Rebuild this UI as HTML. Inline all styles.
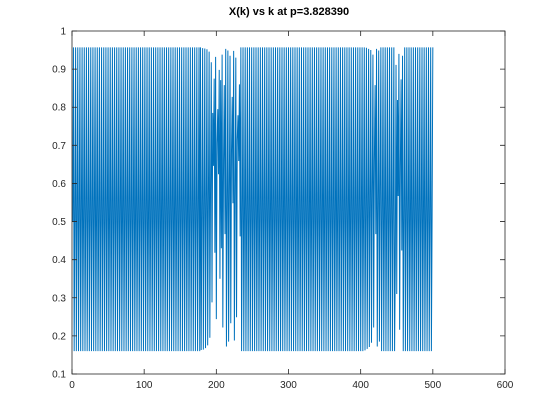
<!DOCTYPE html>
<html><head><meta charset="utf-8"><style>
body{margin:0;background:#fff}
svg{display:block;font-family:"Liberation Sans",Arial,sans-serif}
</style></head><body>
<svg id="chart" width="560" height="420" viewBox="0 0 560 420">
<rect width="560" height="420" fill="#fff"/>
<text x="289" y="15" text-anchor="middle" font-size="11" font-weight="bold" fill="#000">X(k) vs k at p=3.828390</text>
<g id="plot"></g>
<g id="axes"></g>
</svg>
<script>
const xTicks=[0,100,200,300,400,500,600];
const yTicks=[0.1,0.2,0.3,0.4,0.5,0.6,0.7,0.8,0.9,1];
const yTickLabels=["0.1","0.2","0.3","0.4","0.5","0.6","0.7","0.8","0.9","1"];
const xValues=[
0.500,0.957,0.160,0.514,0.957,0.160,0.514,0.957,0.160,0.514,0.957,0.160,0.514,0.957,0.160,0.514,0.957,0.160,0.514,0.957,0.160,0.514,0.957,0.160,0.514,0.957,0.160,0.514,0.957,0.160,
0.514,0.957,0.160,0.514,0.957,0.160,0.514,0.957,0.160,0.514,0.957,0.160,0.514,0.957,0.160,0.514,0.957,0.160,0.514,0.957,0.160,0.514,0.957,0.160,0.514,0.957,0.160,0.514,0.957,0.160,
0.514,0.957,0.160,0.514,0.957,0.160,0.514,0.957,0.160,0.514,0.957,0.160,0.514,0.957,0.160,0.514,0.957,0.160,0.514,0.957,0.160,0.514,0.957,0.160,0.514,0.957,0.160,0.514,0.957,0.160,
0.514,0.957,0.160,0.514,0.957,0.160,0.514,0.957,0.160,0.514,0.957,0.160,0.514,0.957,0.160,0.514,0.957,0.160,0.514,0.957,0.160,0.514,0.957,0.160,0.514,0.957,0.160,0.514,0.957,0.160,
0.514,0.957,0.160,0.514,0.957,0.160,0.514,0.957,0.160,0.514,0.957,0.160,0.514,0.957,0.160,0.514,0.957,0.160,0.514,0.957,0.160,0.514,0.957,0.160,0.514,0.957,0.160,0.514,0.957,0.160,
0.514,0.957,0.160,0.514,0.957,0.160,0.514,0.957,0.160,0.514,0.957,0.160,0.514,0.957,0.160,0.514,0.957,0.160,0.514,0.957,0.160,0.514,0.957,0.160,0.514,0.957,0.160,
0.957,0.163,0.522,0.955,0.164,0.525,0.954,0.168,0.535,0.952,
0.175,0.553,0.946,0.195,0.601,0.918,0.288,0.785,0.646,0.875,
0.418,0.932,0.244,0.706,0.795,0.624,0.898,0.350,0.871,0.430,
0.938,0.222,0.661,0.858,0.467,0.953,0.172,0.545,0.949,0.185,
0.577,0.935,0.233,0.684,0.827,0.548,0.948,0.188,0.584,0.930,
0.249,0.716,0.779,0.659,0.860,0.461,
0.957,0.160,0.514,0.957,0.160,0.514,0.957,0.160,0.514,0.957,0.160,0.514,0.957,0.160,0.514,0.957,0.160,0.514,0.957,0.160,0.514,0.957,0.160,0.514,0.957,0.160,0.514,0.957,0.160,0.514,
0.957,0.160,0.514,0.957,0.160,0.514,0.957,0.160,0.514,0.957,0.160,0.514,0.957,0.160,0.514,0.957,0.160,0.514,0.957,0.160,0.514,0.957,0.160,0.514,0.957,0.160,0.514,0.957,0.160,0.514,
0.957,0.160,0.514,0.957,0.160,0.514,0.957,0.160,0.514,0.957,0.160,0.514,0.957,0.160,0.514,0.957,0.160,0.514,0.957,0.160,0.514,0.957,0.160,0.514,0.957,0.160,0.514,0.957,0.160,0.514,
0.957,0.160,0.514,0.957,0.160,0.514,0.957,0.160,0.514,0.957,0.160,0.514,0.957,0.160,0.514,0.957,0.160,0.514,0.957,0.160,0.514,0.957,0.160,0.514,0.957,0.160,0.514,0.957,0.160,0.514,
0.957,0.160,0.514,0.957,0.160,0.514,0.957,0.160,0.514,0.957,0.160,0.514,0.957,0.160,0.514,0.957,0.160,0.514,0.957,0.160,0.514,0.957,0.160,0.514,0.957,0.160,0.514,0.957,0.160,0.514,
0.957,0.160,0.514,0.957,0.160,0.514,0.957,0.160,0.514,0.957,0.160,0.514,0.957,0.160,0.514,0.957,0.160,0.514,0.957,0.160,0.514,
0.957,0.162,0.520,0.956,0.166,0.530,0.953,0.171,0.543,0.950,0.182,0.570,0.938,0.222,0.661,0.858,0.467,0.953,0.172,0.545,0.949,0.185,0.577,
0.957,0.160,0.514,0.957,0.160,0.514,0.957,0.160,0.514,0.957,0.160,0.514,0.957,0.160,0.514,0.957,0.160,0.514,0.957,0.160,
0.390,0.911,0.310,0.819,0.567,0.940,0.216,0.648,0.873,0.424,0.935,
0.160,0.514,0.957,0.160,0.514,0.957,0.160,0.514,0.957,0.160,0.514,0.957,0.160,0.514,0.957,0.160,0.514,0.957,0.160,0.514,0.957,
0.160,0.514,0.957,0.160,0.514,0.957,0.160,0.514,0.957,0.160,0.514,0.957,0.160,0.514,0.957,0.160,0.514,0.957,0.160,0.514,0.957
];
const NS="http://www.w3.org/2000/svg";
const L=72,R=505,T=31,B=374,xMin=0,xMax=600,yMin=0.1,yMax=1;
function xs(v){return L+(v-xMin)/(xMax-xMin)*(R-L);}
function ys(v){return B-(v-yMin)/(yMax-yMin)*(B-T);}
const plot=document.getElementById('plot'),axes=document.getElementById('axes');
let d='';
xValues.forEach((v,i)=>{d+=(i?'L':'M')+xs(i+1).toFixed(2)+' '+ys(v).toFixed(2);});
const line=document.createElementNS(NS,'path');
line.setAttribute('d',d);line.setAttribute('fill','none');line.setAttribute('stroke','#0072BD');line.setAttribute('stroke-width','1');


plot.appendChild(line);
const box=document.createElementNS(NS,'rect');
box.setAttribute('x',L);box.setAttribute('y',T);box.setAttribute('width',R-L);box.setAttribute('height',B-T);
box.setAttribute('fill','none');box.setAttribute('stroke','#262626');box.setAttribute('stroke-width','0.8');


axes.appendChild(box);
function mk(tag,attrs){const e=document.createElementNS(NS,tag);for(const k in attrs)e.setAttribute(k,attrs[k]);return e;}
xTicks.forEach(t=>{
  const x=xs(t);
  const a=mk('path',{d:`M${x} ${B}V${B-5}M${x} ${T}V${T+5}`,stroke:'#262626','stroke-width':'0.8'});
  
  
  axes.appendChild(a);
  const tx=mk('text',{x:x,y:B+14,'text-anchor':'middle','font-size':'10',fill:'#262626'});
  tx.textContent=String(t);
  
  
  axes.appendChild(tx);
});
yTicks.forEach((t,i)=>{
  const y=ys(t);
  const a=mk('path',{d:`M${L} ${y}H${L+5}M${R} ${y}H${R-5}`,stroke:'#262626','stroke-width':'0.8'});
  
  
  axes.appendChild(a);
  const tx=mk('text',{x:L-6,y:y+3.5,'text-anchor':'end','font-size':'10',fill:'#262626'});
  tx.textContent=yTickLabels[i];
  
  
  axes.appendChild(tx);
});
</script>
</body></html>
